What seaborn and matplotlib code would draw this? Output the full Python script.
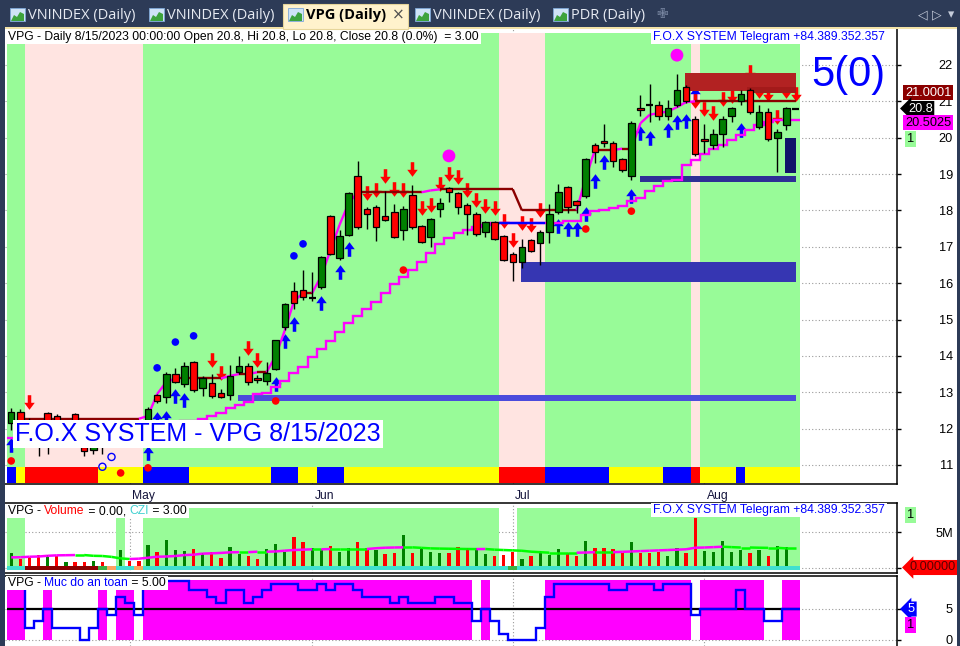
import numpy as np
import pandas as pd
import matplotlib
matplotlib.use("Agg")
import matplotlib.pyplot as plt
import matplotlib.transforms as mtrans
from matplotlib.path import Path
from matplotlib.patches import Rectangle, Polygon
from matplotlib.collections import LineCollection
import seaborn as sns

# ------------------------------------------------------------------ data
holidays = ["2023-05-01", "2023-05-02", "2023-05-03"]
dates = [d for d in pd.bdate_range("2023-04-12", "2023-08-15")
         if d.strftime("%Y-%m-%d") not in holidays]

opens = [12.15, 12.46, 12.20, 11.90, 12.43, 12.35, 11.80, 12.40, 11.48, 11.40, 11.60, 11.75, 11.85, 12.00, 11.90,
         12.24, 12.92, 12.87, 13.50, 13.23, 13.83, 13.12, 13.25, 12.98, 12.92, 13.56, 13.72, 13.39, 13.31, 13.64,
         14.79, 15.78, 15.81, 15.59, 15.90, 17.85, 16.69, 17.32, 18.95, 18.04, 18.10, 17.85, 17.96, 17.46, 18.43,
         17.57, 17.27, 18.04, 18.62, 18.48, 18.15, 17.90, 17.41, 17.68, 17.30, 16.80, 16.58, 17.19, 17.10, 17.41,
         17.96, 18.64, 18.26, 18.40, 19.80, 19.91, 19.86, 19.41, 18.95, 20.82, 20.90, 20.90, 20.60, 20.90, 21.40,
         20.51, 19.96, 19.80, 20.10, 20.60, 21.00, 21.31, 20.29, 20.71, 19.99, 20.35, 20.80]
highs = [12.57, 12.55, 12.30, 12.10, 12.45, 12.40, 12.00, 12.42, 11.80, 11.70, 11.90, 11.95, 12.10, 12.15, 12.20,
         12.60, 12.95, 13.55, 13.67, 13.83, 13.86, 13.45, 13.50, 13.10, 13.75, 14.00, 13.80, 13.47, 13.83, 14.45,
         15.45, 16.03, 16.36, 16.30, 16.75, 17.88, 17.46, 18.50, 19.36, 18.10, 18.15, 18.53, 18.18, 18.12, 18.70,
         17.60, 17.80, 18.34, 18.65, 18.50, 18.20, 17.95, 17.70, 17.70, 17.32, 16.85, 17.21, 17.22, 17.45, 18.18,
         18.73, 18.66, 18.30, 19.45, 19.85, 20.38, 19.90, 19.45, 20.45, 21.18, 21.48, 21.00, 21.05, 21.75, 21.45,
         20.60, 20.38, 20.24, 20.60, 20.85, 21.30, 21.37, 20.90, 20.82, 20.24, 20.85, 20.80]
lows = [11.95, 12.05, 11.80, 11.25, 11.30, 11.60, 11.60, 11.70, 11.25, 11.30, 11.30, 11.50, 11.70, 11.80, 11.85,
        12.00, 12.70, 12.70, 13.25, 13.15, 13.00, 12.90, 12.85, 12.85, 12.78, 13.50, 13.20, 13.25, 13.20, 13.60,
        14.70, 15.30, 15.55, 15.50, 15.85, 16.78, 16.65, 17.30, 17.50, 17.49, 17.16, 17.70, 17.25, 17.19, 17.50,
        17.10, 17.00, 17.82, 18.23, 17.90, 17.32, 17.30, 17.27, 17.19, 16.60, 16.06, 16.42, 16.85, 16.50, 17.10,
        17.90, 17.93, 17.93, 18.35, 19.30, 19.75, 19.20, 19.05, 18.85, 20.60, 20.43, 20.50, 20.50, 20.85, 20.95,
        19.50, 19.58, 19.70, 19.74, 20.43, 20.90, 20.65, 20.25, 19.90, 19.06, 20.20, 20.80]
closes = [12.46, 12.18, 11.90, 11.60, 11.75, 11.90, 11.95, 11.80, 11.38, 11.60, 11.75, 11.85, 12.00, 11.90, 12.20,
          12.54, 12.76, 13.50, 13.28, 13.72, 13.06, 13.39, 12.90, 12.87, 13.45, 13.72, 13.28, 13.34, 13.53, 14.44,
          15.43, 15.45, 15.62, 15.59, 16.72, 16.80, 17.30, 18.48, 17.54, 17.90, 17.54, 17.74, 17.27, 18.04, 17.54,
          17.13, 17.77, 18.20, 18.50, 18.10, 17.90, 17.35, 17.68, 17.21, 16.64, 16.58, 17.00, 16.88, 17.41, 17.90,
          18.51, 18.10, 18.15, 19.41, 19.60, 19.86, 19.36, 19.11, 20.40, 20.76, 20.90, 20.60, 20.82, 21.31, 21.00,
          19.55, 19.91, 20.10, 20.51, 20.82, 21.20, 20.71, 20.71, 19.96, 20.16, 20.82, 20.80]

nan = np.nan
upper_line = [nan, 12.27, 12.27, 12.27, 12.27, 12.27, 12.27, 12.27, 12.27, 12.27, 12.27, 12.27, 12.27, 12.27, 12.27,
              12.35, 12.95, 13.28, 13.38, 13.38, 13.38, 13.38, 13.38, 13.38, 13.45, 13.50, 13.50, 13.55, 13.55,
              14.00, 14.70, 15.50, 15.73, 15.73, 16.20, 16.90, 17.60, 18.20, 18.50,
              18.50, 18.50, 18.50, 18.50, 18.50, 18.50, 18.50, 18.55, 18.58,
              18.58, 18.58, 18.58, 18.58, 18.58, 18.58, 18.58, 18.58,
              18.00, 18.00, 18.00, 18.00, 18.00, 18.00, 18.00,
              18.90, 19.66, 19.66, 19.66, 19.70, 19.70, 20.40, 20.63, 20.68, 20.72, 20.84, 20.98,
              21.00, 21.00, 21.00, 21.00, 21.00, 21.00, 21.00, 21.00, 21.00, 21.00, 21.00, 21.00]
lower_line = [11.75, 11.75, 11.75, 11.75, 11.75, 11.75, 11.75, 11.75, 11.75, 11.75, 11.75, 11.75, 11.75, 11.75, 11.75,
              12.00, 12.05, 12.10, 12.15, 12.20, 12.22, 12.26, 12.34, 12.43, 12.57, 12.65, 12.73, 12.95, 12.98, 13.15,
              13.32, 13.53, 13.70, 13.97, 14.20, 14.40, 14.65, 14.90, 15.10, 15.29, 15.48, 15.73, 15.98, 16.17, 16.36,
              16.58, 16.83, 17.08, 17.24, 17.38, 17.46, 17.54, 17.60, 17.65, 17.65, 17.65, 17.65, 17.65, 17.65, 17.65,
              17.65, 17.70, 17.72, 17.87, 17.98, 18.00, 18.06, 18.12, 18.26, 18.35, 18.54, 18.68, 18.81, 18.84, 19.26,
              19.40, 19.54, 19.68, 19.79, 19.93, 20.07, 20.20, 20.34, 20.43, 20.49, 20.50, 20.50]
lower_colour_runs = [("m", 54), ("b", 5), ("m", 28)]

bg_runs = [("g", 2), ("p", 13), ("g", 39), ("p", 5), ("g", 16), ("p", 1), ("g", 11)]
strip_runs = [("b", 1), ("y", 1), ("r", 8), ("y", 5), ("b", 5), ("y", 9), ("b", 3), ("y", 2), ("b", 3),
              ("y", 17), ("r", 5), ("b", 7), ("y", 6), ("b", 3), ("r", 1), ("y", 4), ("b", 1), ("y", 6)]

up_idx = [0, 15, 16, 17, 18, 19, 29, 30, 31, 34, 36, 37, 60, 61, 62, 63, 64, 65, 68, 69, 70, 72, 73, 74, 75, 80]
up_pos = [11.55, 11.33, 12.27, 12.28, 12.91, 12.79, 13.24, 14.42, 14.88, 15.45, 16.32, 16.93, 17.56, 17.49, 17.49,
          17.90, 18.80, 19.32, 18.41, 20.12, 19.99, 20.20, 20.42, 20.45, 21.20, 20.20]
dn_idx = [2, 22, 23, 26, 27, 39, 40, 41, 42, 43, 44, 45, 46, 47, 48, 49, 50, 51, 52, 53, 54, 55, 56, 57, 58,
          75, 76, 77, 78, 79, 81, 82, 83, 84, 85, 86]
dn_pos = [12.72, 13.90, 13.52, 14.23, 13.90, 18.49, 18.55, 18.96, 18.60, 18.55, 19.13, 18.08, 18.16, 18.74, 19.01,
          18.93, 18.55, 18.30, 18.11, 18.08, 17.70, 17.20, 17.65, 17.59, 18.00, 21.01, 20.79, 20.67, 21.06, 21.16,
          21.81, 21.28, 21.20, 20.57, 21.28, 21.20]
blue_dot_idx = [16, 18, 20, 31, 32]
blue_dot_val = [13.67, 14.38, 14.55, 16.75, 17.08]
red_dot_idx = [0, 12, 15, 29, 43, 63, 68]
red_dot_val = [11.11, 10.78, 10.92, 12.76, 16.36, 17.49, 17.98]
ring_idx = [10, 11]
ring_val = [10.95, 11.22]
big_dot_idx = [48, 73]
big_dot_val = [19.50, 22.27]

zone_start = [24.9, 55.9, 68.9, 84.9, 73.9, 80.7]
zone_end = [86.05, 86.05, 86.05, 86.05, 86.05, 86.05]
zone_low = [12.76, 16.03, 18.78, 19.03, 21.28, 21.22]
zone_high = [12.92, 16.58, 18.95, 19.99, 21.78, 21.40]

volume_m = [2.10, 1.25, 1.57, 1.80, 1.80, 1.67, 0.88, 0.88, 0.88, 1.00, 0.88, 0.20, 2.50, 1.00, 1.00,
            3.20, 2.27, 3.90, 2.50, 2.36, 2.64, 2.10, 2.27, 1.34, 2.87, 1.90, 1.67, 1.25, 2.64, 3.33,
            2.27, 4.35, 3.56, 2.73, 2.60, 3.10, 2.27, 2.73, 3.56, 2.73, 2.50, 1.90, 2.04, 4.58, 2.10,
            2.80, 2.27, 2.10, 2.04, 2.87, 2.80, 2.73, 1.94, 1.67, 1.80, 2.27, 1.20, 1.67, 2.36, 1.80,
            2.60, 2.04, 1.67, 3.75, 2.82, 2.82, 2.60, 2.04, 3.56, 2.04, 2.13, 2.27, 1.67, 2.73, 2.04,
            6.90, 2.36, 2.27, 3.75, 2.27, 2.50, 2.04, 2.50, 1.67, 3.06, 2.87, 0.00]
volume_dir = ("grrrgrgrrgrrgrr" "grgggrgrrggrrgg" "grrggrggrrgrrgr"
              "gggrrrggrrrgrgg" "grrgrrrrgrrrggr" "rgggggrgrggg")
volume_ma = [1.48, 1.50, 1.57, 1.60, 1.70, 1.76, 1.78, 1.80, 1.80, 1.70, 1.67, 1.55, 1.34, 1.25, 1.30,
             1.43, 1.57, 1.60, 1.67, 1.80, 1.85, 2.00, 2.04, 2.10, 2.18, 2.20, 2.20, 2.27, 2.27, 2.30,
             2.41, 2.50, 2.55, 2.60, 2.60, 2.64, 2.64, 2.64, 2.64, 2.64, 2.75, 2.82, 2.85, 2.87, 2.87,
             2.80, 2.73, 2.70, 2.68, 2.66, 2.64, 2.63, 2.64, 2.55, 2.50, 2.45, 2.40, 2.27, 2.20, 2.13,
             2.13, 2.13, 2.13, 2.15, 2.20, 2.20, 2.20, 2.25, 2.30, 2.35, 2.40, 2.45, 2.50, 2.55, 2.60,
             2.82, 2.85, 2.90, 2.96, 2.90, 2.85, 2.85, 2.82, 2.80, 2.80, 2.73, 2.73]
vol_bg_runs = [("g", 2), ("w", 10), ("g", 1), ("w", 2), ("g", 39), ("w", 2), ("g", 31)]
vol_strip_runs = [("c", 2), ("d", 8), ("g", 1), ("o", 1), ("c", 2), ("o", 1), ("c", 40), ("g", 1), ("c", 31)]

safety = [9.5, 9.5, 2, 3, 5, 2, 2, 2, 0, 2, 5, 4, 7, 6, 4,
          9.5, 9.5, 9.5, 9.5, 9.5, 8, 8, 7, 6, 8, 8, 6, 7, 8, 9,
          9, 9, 8, 8, 9, 8, 9, 9, 8, 7, 7, 7, 6, 7, 6,
          6, 6, 7, 7, 6, 6, 3, 5, 3, 1, 0, 0, 0, 2, 7,
          9, 9, 9, 9, 9, 9, 8, 8, 9, 9, 9, 8, 9, 9, 9,
          4, 5, 5, 5, 5, 8, 5, 5, 3, 3, 5, 5]

price_ticks = [11, 12, 13, 14, 15, 16, 17, 18, 19, 20, 21, 22]
tab_names = ["VNINDEX (Daily)", "VNINDEX (Daily)", "VPG (Daily)", "VNINDEX (Daily)", "PDR (Daily)"]

# ------------------------------------------------------------------ helpers
def expand(runs):
    return [s for s, k in runs for _ in range(k)]


def runs_of(labels):
    out, start = [], 0
    for i in range(1, len(labels) + 1):
        if i == len(labels) or labels[i] != labels[start]:
            out.append((labels[start], start, i - 1))
            start = i
    return out


sns.set_style("white")
plt.rcParams["font.family"] = ["Liberation Sans", "DejaVu Sans"]

W, H = 960.0, 646.0
fig = plt.figure(figsize=(9.6, 6.46), dpi=100)
fig.patch.set_facecolor("white")
renderer = fig.canvas.get_renderer()


def axes_px(x0, y0, x1, y1):
    return fig.add_axes([x0 / W, 1 - y1 / H, (x1 - x0) / W, (y1 - y0) / H])


def frect(x0, y0, x1, y1, fc, z=10, ec="none", lw=0):
    fig.patches.append(Rectangle((x0 / W, 1 - y1 / H), (x1 - x0) / W, (y1 - y0) / H,
                                 transform=fig.transFigure, fc=fc, ec=ec, lw=lw, zorder=z))


def ftext(px, py, s, **kw):
    kw.setdefault("va", "center")
    kw.setdefault("ha", "left")
    return fig.text(px / W, 1 - py / H, s, **kw)


def text_w(s, **kw):
    t1 = fig.text(0, 0, "|" + s + "|", **kw)
    t2 = fig.text(0, 0, "||", **kw)
    w = t1.get_window_extent(renderer).width - t2.get_window_extent(renderer).width
    t1.remove()
    t2.remove()
    return w


LABEL_FS = 8.7


def multi_label(px, py, pieces, fs=LABEL_FS, z=8):
    widths = [text_w(s, fontsize=fs) for s, _ in pieces]
    frect(px - 2, py - 7, px + sum(widths) + 2, py + 7, "white", z=z)
    x = px
    for (s, col), w in zip(pieces, widths):
        ftext(x, py, s, fontsize=fs, color=col, zorder=z + 1)
        x += w


n = len(opens)
xs = np.arange(n)
o, h, l, c = (np.array(a, dtype=float) for a in (opens, highs, lows, closes))
XLIM = ((5 - 11.2) / 9.12, (897 - 11.2) / 9.12)
month_pos = [i for i in range(1, n) if dates[i].month != dates[i - 1].month]
month_lab = [dates[i].strftime("%b") for i in month_pos]
GRID = dict(color="#9A9A9A", linestyle=(0, (1, 2)), linewidth=0.8)

# ------------------------------------------------------------------ main panel
ax = axes_px(5, 29, 897, 484)
ax.set_xlim(*XLIM)
ax.set_ylim(10.476, 22.99)
ax.set_facecolor("white")
ax.set_axisbelow(True)
ax.grid(True, axis="both", **GRID)

bg_col = {"g": "#98FB98", "p": "#FFE4E1"}
for s, a, b in runs_of(expand(bg_runs)):
    ax.fill_between([a - 0.5, b + 0.5], 10.93, 22.88, color=bg_col[s], lw=0, zorder=1)
strip_col = {"b": "#0000FF", "y": "#FFFF00", "r": "#FF0000"}
for s, a, b in runs_of(expand(strip_runs)):
    ax.fill_between([a - 0.5, b + 0.5], 10.51, 10.93, color=strip_col[s], lw=0, zorder=1.5)

zone_cols = ["#4B4BDC", "#3636B2", "#2E2E96", "#12126A", "#B22222", "#A31A1A"]
for x0, x1, lo, hi, col in zip(zone_start, zone_end, zone_low, zone_high, zone_cols):
    ax.fill_between([x0, x1], lo, hi, color=col, lw=0, zorder=4.5)

# lower staircase line
edges = np.arange(n + 1) - 0.5
ax.stairs(lower_line, edges, baseline=None, color="#FF00FF", lw=1.7, zorder=4.7)
for s, a, b in runs_of(expand(lower_colour_runs)):
    if s == "b":
        ax.stairs(lower_line[a:b + 1], edges[a:b + 2], baseline=None, color="#0000FF", lw=1.7, zorder=4.8)

# upper line
segs, cols = [], []
for i in range(1, n):
    if np.isnan(upper_line[i - 1]) or np.isnan(upper_line[i]):
        continue
    segs.append([(i - 1, upper_line[i - 1]), (i, upper_line[i])])
    cols.append("#FF00FF" if upper_line[i] > upper_line[i - 1] + 1e-9 else "#8B0000")
ax.add_collection(LineCollection(segs, colors=cols, linewidths=1.7, zorder=4.7))

# arrows
UP = Path([(0, 0.5), (0.36, 0.02), (0.12, 0.02), (0.12, -0.5), (-0.12, -0.5), (-0.12, 0.02),
           (-0.36, 0.02), (0, 0.5)], closed=True)
DN = Path([(0, -0.5), (0.36, -0.02), (0.12, -0.02), (0.12, 0.5), (-0.12, 0.5), (-0.12, -0.02),
           (-0.36, -0.02), (0, -0.5)], closed=True)
ax.plot(up_idx, up_pos, ls="none", marker=UP, ms=10.5, color="#0000FF", mew=0, zorder=4)
ax.plot(dn_idx, dn_pos, ls="none", marker=DN, ms=10.5, color="#FF0000", mew=0, zorder=4)

# candles
upm, dnm, eqm = c > o, c < o, np.isclose(c, o)
ax.vlines(xs, l, h, color="black", lw=1.0, zorder=5)
ax.bar(xs[upm], (c - o)[upm], bottom=o[upm], width=0.72, color="#008000", edgecolor="black", lw=0.9, zorder=6)
ax.bar(xs[dnm], (o - c)[dnm], bottom=c[dnm], width=0.72, color="#FF0000", edgecolor="black", lw=0.9, zorder=6)
ax.hlines(o[eqm], xs[eqm] - 0.38, xs[eqm] + 0.38, color="black", lw=1.6, zorder=6)

# dots
sns.scatterplot(x=blue_dot_idx, y=blue_dot_val, ax=ax, color="#0000FF", s=30, edgecolor="none", zorder=7, legend=False)
sns.scatterplot(x=red_dot_idx, y=red_dot_val, ax=ax, color="#FF0000", s=30, edgecolor="none", zorder=7, legend=False)
sns.scatterplot(x=big_dot_idx, y=big_dot_val, ax=ax, color="#FF00FF", s=85, edgecolor="none", zorder=7, legend=False)
ax.scatter(ring_idx, ring_val, s=26, facecolors="none", edgecolors="#0000FF", linewidths=1.0, zorder=7)

ax.yaxis.tick_right()
ax.set_yticks(price_ticks)
ax.set_yticklabels([str(t) for t in price_ticks])
ax.tick_params(axis="y", direction="out", length=3, width=1, pad=37.3, labelsize=9.2, colors="black")
for lb in ax.get_yticklabels():
    lb.set_horizontalalignment("right")
ax.set_xticks(month_pos)
ax.set_xticklabels(month_lab)
ax.tick_params(axis="x", direction="out", length=3, width=1, pad=1, labelsize=8.7, labelcolor="#14143C")
off = mtrans.ScaledTranslation(2.5 / 100, 0, fig.dpi_scale_trans)
for lb in ax.get_xticklabels():
    lb.set_horizontalalignment("left")
    lb.set_transform(lb.get_transform() + off)
for side in ("top", "left"):
    ax.spines[side].set_visible(False)
for side in ("right", "bottom"):
    ax.spines[side].set_color("black")
    ax.spines[side].set_linewidth(1.1)
ax.set_xlabel("")
ax.set_ylabel("")

# ------------------------------------------------------------------ volume panel
av = axes_px(5, 503, 897, 573)
av.set_xlim(*XLIM)
av.set_ylim(-0.69, 9.03)
av.set_axisbelow(True)
av.grid(True, axis="both", **GRID)
for s, a, b in runs_of(expand(vol_bg_runs)):
    if s == "g":
        av.fill_between([a - 0.5, b + 0.5], 0.28, 8.33, color="#98FB98", lw=0, zorder=1)
vs_col = {"c": "#40E0D0", "d": "#8B0000", "g": "#3CB043", "o": "#FFA060"}
for s, a, b in runs_of(expand(vol_strip_runs)):
    av.fill_between([a - 0.5, b + 0.5], -0.28, 0.28, color=vs_col[s], lw=0, zorder=4)
vcols = ["#008000" if d == "g" else "#FF0000" for d in volume_dir]
av.bar(xs, volume_m, width=0.36, color=vcols, lw=0, zorder=3)
vsegs, vcl = [], []
for i in range(1, n):
    vsegs.append([(i - 1, volume_ma[i - 1]), (i, volume_ma[i])])
    vcl.append("#FF00FF" if volume_ma[i] > volume_ma[i - 1] + 1e-9 else "#00FF00")
av.add_collection(LineCollection(vsegs, colors=vcl, linewidths=1.8, zorder=5))
av.yaxis.tick_right()
av.set_yticks([0, 5])
av.set_yticklabels(["", "5M"])
av.tick_params(axis="y", direction="out", length=3, width=1, pad=37.3, labelsize=9.2, colors="black")
for lb in av.get_yticklabels():
    lb.set_horizontalalignment("right")
av.set_xticks(month_pos)
av.tick_params(axis="x", length=0, labelbottom=False)
av.spines["left"].set_visible(False)
for side in ("right", "top", "bottom"):
    av.spines[side].set_color("black")
    av.spines[side].set_linewidth(1.1)

# ------------------------------------------------------------------ safety panel
ai = axes_px(5, 576, 897, 646)
ai.set_xlim(*XLIM)
ai.set_ylim(-0.97, 10.32)
ai.set_axisbelow(True)
ai.grid(True, axis="both", **GRID)
for s, a, b in runs_of([v >= 5 for v in safety]):
    if s:
        ai.fill_between([a - 0.5, b + 0.5], 0, 9.7, color="#FF00FF", lw=0, zorder=1)
ai.hlines(5, -0.5, n - 0.5, color="black", lw=1.6, zorder=2)
ai.stairs(safety, edges, baseline=None, color="#0000FF", lw=1.7, zorder=3)
ai.yaxis.tick_right()
ai.set_yticks([0, 5])
ai.set_yticklabels(["0", "5"])
ai.tick_params(axis="y", direction="out", length=3, width=1, pad=37.3, labelsize=9.2, colors="black")
for lb in ai.get_yticklabels():
    lb.set_horizontalalignment("right")
ai.set_xticks(month_pos)
ai.tick_params(axis="x", length=0, labelbottom=False)
for side in ("left", "bottom"):
    ai.spines[side].set_visible(False)
for side in ("right", "top"):
    ai.spines[side].set_color("black")
    ai.spines[side].set_linewidth(1.1)

# ------------------------------------------------------------------ texts
multi_label(8, 37, [("VPG - Daily 8/15/2023 00:00:00 Open 20.8, Hi 20.8, Lo 20.8, Close 20.8 (0.0%)  = 3.00", "black")])
tg = "F.O.X SYSTEM Telegram +84.389.352.357"
tw = text_w(tg, fontsize=LABEL_FS)
multi_label(885 - tw, 37, [(tg, "#0000FF")])
multi_label(885 - tw, 510, [(tg, "#0000FF")])
multi_label(8, 511, [("VPG - ", "black"), ("Volume", "#FF0000"), (" = 0.00, ", "black"),
                     ("CZI", "#40D0D0"), (" = 3.00", "black")])
multi_label(8, 583, [("VPG - ", "black"), ("Muc do an toan", "#0000FF"), (" = 5.00", "black")])

ftext(848, 75, "5(0)", fontsize=30, color="#0000FF", ha="center", zorder=8)
ftext(15, 434, "F.O.X SYSTEM - VPG 8/15/2023", fontsize=18, color="#0000FF", zorder=8,
      bbox=dict(boxstyle="square,pad=0.08", fc="white", ec="none"))


def value_box(px, py, s, fc, tc, arrow=False, fs=9.2):
    style = "larrow,pad=0.12" if arrow else "square,pad=0.12"
    ftext(px, py, s, fontsize=fs, color=tc, zorder=9, bbox=dict(boxstyle=style, fc=fc, ec="none"))


value_box(905, 92.5, "21.0001", "#8B0000", "white")
value_box(908, 108.5, "20.8", "black", "white", arrow=True)
value_box(905, 122.5, "20.5025", "#FF00FF", "black")
value_box(907, 139, "1", "#98FB98", "black")
value_box(907, 515, "1", "#98FB98", "black")
value_box(910, 567.5, "0.00000", "#FF0000", "#5A0000", arrow=True)
value_box(908, 609, "5", "#0000FF", "white", arrow=True)
value_box(907, 625, "1", "#FF00FF", "black")

# ------------------------------------------------------------------ window chrome
frect(0, 0, 960, 28, "#2D3B57", z=10)
frect(0, 28, 5, 646, "#2D3B57", z=10)
frect(957, 28, 960, 646, "#2D3B57", z=10)
frect(5, 27, 957, 29, "#F3E3A8", z=10.5)
frect(283, 4, 408, 29, "#FFF2CC", z=10.5, ec="#E6D59A", lw=0.8)
icon_x = [10, 149, 288, 415, 553]
text_x = [28, 167, 306, 433, 571]
for k, (ix, tx, name) in enumerate(zip(icon_x, text_x, tab_names)):
    frect(ix, 8, ix + 15, 21, "#CFE3F7", z=11, ec="#7FA8D8", lw=0.6)
    pts = [(ix + 1, 21), (ix + 4, 15), (ix + 7, 17), (ix + 10, 12), (ix + 14, 14), (ix + 14, 21)]
    fig.patches.append(Polygon([(px / W, 1 - py / H) for px, py in pts], closed=True,
                               transform=fig.transFigure, fc="#3DA33D", ec="none", zorder=11.5))
    if k == 2:
        ftext(tx, 15.5, name, fontsize=10.5, color="black", weight="bold",
              family=["Open Sans", "DejaVu Sans"], zorder=12)
    else:
        ftext(tx, 15.5, name, fontsize=10.5, color="#E6EAF2",
              family=["Open Sans", "DejaVu Sans"], zorder=12)
ftext(398, 15, "×", fontsize=11, color="#505050", ha="center", family=["DejaVu Sans"], zorder=12)
ftext(662, 14, "✙", fontsize=10, color="#7D8BA6", ha="center", family=["DejaVu Sans"], zorder=12)
for px, s in zip([923, 937, 951], ["◁", "▷", "▾"]):
    ftext(px, 15, s, fontsize=9, color="#C5CCDA", ha="center", family=["DejaVu Sans"], zorder=12)

fig.savefig("out.png", dpi=100)
